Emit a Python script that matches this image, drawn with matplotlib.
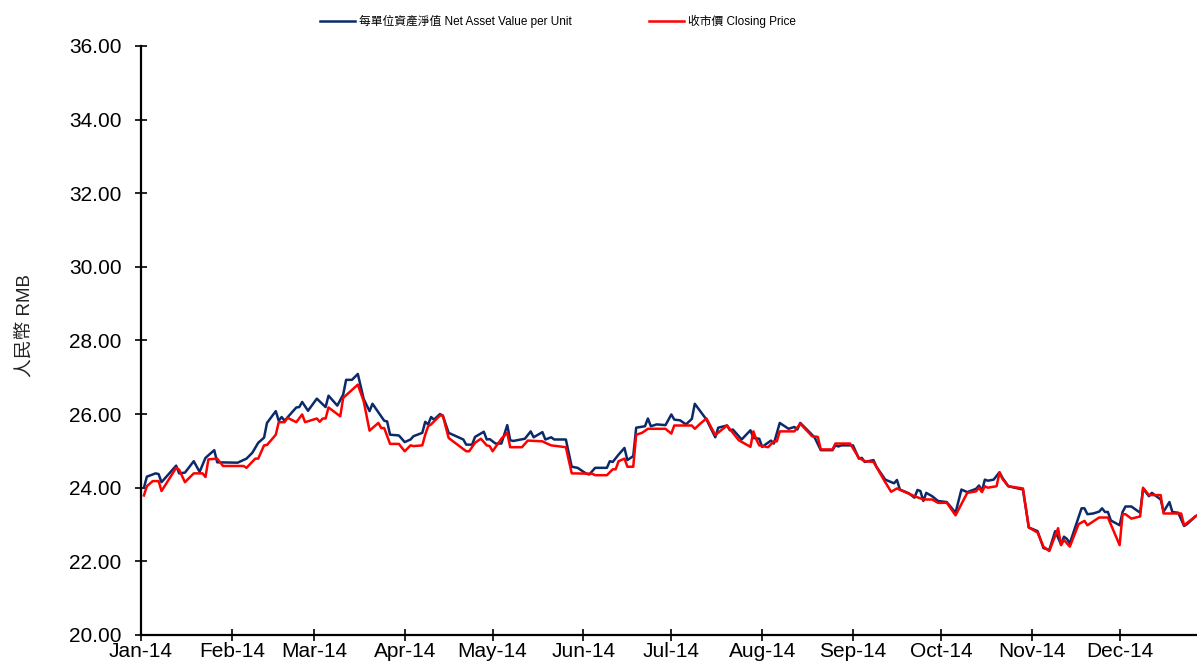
import matplotlib
matplotlib.use('Agg')
import matplotlib.pyplot as plt
import matplotlib.dates as mdates
import pandas as pd

# NAV per unit (navy)
nav_dates = [
    '2014-01-02', '2014-01-03', '2014-01-06', '2014-01-07', '2014-01-08', '2014-01-13',
    '2014-01-14', '2014-01-16', '2014-01-19', '2014-01-21', '2014-01-23', '2014-01-26',
    '2014-01-27', '2014-02-03', '2014-02-06', '2014-02-08', '2014-02-10', '2014-02-12',
    '2014-02-13', '2014-02-16', '2014-02-17', '2014-02-18', '2014-02-19', '2014-02-23',
    '2014-02-24', '2014-02-25', '2014-02-27', '2014-03-02', '2014-03-05', '2014-03-06',
    '2014-03-09', '2014-03-11', '2014-03-12', '2014-03-14', '2014-03-16', '2014-03-18',
    '2014-03-20', '2014-03-21', '2014-03-25', '2014-03-26', '2014-03-27', '2014-03-30',
    '2014-04-01', '2014-04-03', '2014-04-04', '2014-04-07', '2014-04-08', '2014-04-09',
    '2014-04-10', '2014-04-11', '2014-04-13', '2014-04-14', '2014-04-16', '2014-04-21',
    '2014-04-22', '2014-04-24', '2014-04-25', '2014-04-28', '2014-04-29', '2014-04-30',
    '2014-05-02', '2014-05-04', '2014-05-06', '2014-05-07', '2014-05-08', '2014-05-12',
    '2014-05-14', '2014-05-15', '2014-05-18', '2014-05-19', '2014-05-21', '2014-05-22',
    '2014-05-26', '2014-05-28', '2014-05-30', '2014-06-02', '2014-06-03', '2014-06-05',
    '2014-06-09', '2014-06-10', '2014-06-11', '2014-06-13', '2014-06-15', '2014-06-16',
    '2014-06-18', '2014-06-19', '2014-06-22', '2014-06-23', '2014-06-24', '2014-06-26',
    '2014-06-29', '2014-07-01', '2014-07-02', '2014-07-04', '2014-07-06', '2014-07-08',
    '2014-07-09', '2014-07-13', '2014-07-16', '2014-07-17', '2014-07-20', '2014-07-21',
    '2014-07-22', '2014-07-25', '2014-07-28', '2014-07-29', '2014-07-31', '2014-08-01',
    '2014-08-04', '2014-08-05', '2014-08-07', '2014-08-10', '2014-08-12', '2014-08-13',
    '2014-08-14', '2014-08-18', '2014-08-19', '2014-08-21', '2014-08-25', '2014-08-26',
    '2014-08-27', '2014-08-28', '2014-09-01', '2014-09-03', '2014-09-04', '2014-09-05',
    '2014-09-08', '2014-09-09', '2014-09-12', '2014-09-15', '2014-09-16', '2014-09-17',
    '2014-09-20', '2014-09-22', '2014-09-23', '2014-09-24', '2014-09-25', '2014-09-26',
    '2014-09-28', '2014-09-30', '2014-10-03', '2014-10-06', '2014-10-08', '2014-10-10',
    '2014-10-13', '2014-10-14', '2014-10-15', '2014-10-16', '2014-10-17', '2014-10-19',
    '2014-10-21', '2014-10-22', '2014-10-24', '2014-10-29', '2014-10-31', '2014-11-03',
    '2014-11-05', '2014-11-07', '2014-11-09', '2014-11-11', '2014-11-12', '2014-11-13',
    '2014-11-14', '2014-11-18', '2014-11-19', '2014-11-20', '2014-11-22', '2014-11-24',
    '2014-11-25', '2014-11-26', '2014-11-27', '2014-11-28', '2014-12-01', '2014-12-02',
    '2014-12-03', '2014-12-05', '2014-12-08', '2014-12-09', '2014-12-11', '2014-12-12',
    '2014-12-15', '2014-12-16', '2014-12-18', '2014-12-19', '2014-12-21', '2014-12-23',
    '2014-12-24', '2014-12-27', '2014-12-31',
]
nav_values = [
    24.00, 24.30, 24.39, 24.37, 24.15, 24.60,
    24.39, 24.41, 24.72, 24.43, 24.81, 25.02,
    24.69, 24.68, 24.79, 24.95, 25.22, 25.36,
    25.76, 26.08, 25.82, 25.92, 25.82, 26.18,
    26.19, 26.33, 26.09, 26.42, 26.19, 26.50,
    26.23, 26.53, 26.93, 26.93, 27.09, 26.41,
    26.08, 26.28, 25.82, 25.80, 25.44, 25.42,
    25.24, 25.31, 25.40, 25.49, 25.79, 25.72,
    25.92, 25.85, 26.00, 25.96, 25.49, 25.31,
    25.17, 25.17, 25.38, 25.52, 25.31, 25.32,
    25.20, 25.20, 25.70, 25.29, 25.27, 25.33,
    25.53, 25.37, 25.51, 25.31, 25.37, 25.31,
    25.31, 24.57, 24.54, 24.38, 24.36, 24.54,
    24.54, 24.72, 24.70, 24.90, 25.08, 24.75,
    24.86, 25.63, 25.67, 25.88, 25.67, 25.72,
    25.70, 25.99, 25.85, 25.83, 25.72, 25.87,
    26.28, 25.85, 25.37, 25.63, 25.69, 25.56,
    25.58, 25.31, 25.56, 25.35, 25.33, 25.11,
    25.28, 25.20, 25.76, 25.60, 25.65, 25.58,
    25.76, 25.44, 25.35, 25.02, 25.02, 25.15,
    25.12, 25.15, 25.15, 24.79, 24.81, 24.70,
    24.75, 24.57, 24.22, 24.12, 24.21, 23.95,
    23.85, 23.73, 23.94, 23.91, 23.64, 23.86,
    23.77, 23.64, 23.61, 23.32, 23.95, 23.88,
    23.97, 24.06, 23.91, 24.22, 24.19, 24.22,
    24.42, 24.27, 24.04, 23.95, 22.92, 22.82,
    22.36, 22.31, 22.82, 22.46, 22.67, 22.61,
    22.49, 23.44, 23.44, 23.28, 23.30, 23.35,
    23.44, 23.34, 23.34, 23.11, 22.98, 23.34,
    23.49, 23.49, 23.32, 23.97, 23.77, 23.86,
    23.68, 23.35, 23.61, 23.34, 23.32, 22.96,
    23.01, 23.23, 23.35,
]

# Closing price (red)
price_dates = [
    '2014-01-02', '2014-01-03', '2014-01-05', '2014-01-07', '2014-01-08', '2014-01-13',
    '2014-01-14', '2014-01-16', '2014-01-19', '2014-01-22', '2014-01-23', '2014-01-24',
    '2014-01-27', '2014-01-29', '2014-02-05', '2014-02-06', '2014-02-09', '2014-02-10',
    '2014-02-12', '2014-02-13', '2014-02-16', '2014-02-17', '2014-02-19', '2014-02-20',
    '2014-02-23', '2014-02-25', '2014-02-26', '2014-03-02', '2014-03-03', '2014-03-04',
    '2014-03-05', '2014-03-06', '2014-03-10', '2014-03-11', '2014-03-16', '2014-03-18',
    '2014-03-20', '2014-03-23', '2014-03-24', '2014-03-25', '2014-03-27', '2014-03-30',
    '2014-04-01', '2014-04-03', '2014-04-04', '2014-04-07', '2014-04-08', '2014-04-09',
    '2014-04-10', '2014-04-13', '2014-04-14', '2014-04-16', '2014-04-22', '2014-04-23',
    '2014-04-25', '2014-04-27', '2014-04-29', '2014-04-30', '2014-05-01', '2014-05-04',
    '2014-05-06', '2014-05-07', '2014-05-11', '2014-05-13', '2014-05-18', '2014-05-19',
    '2014-05-21', '2014-05-26', '2014-05-28', '2014-06-04', '2014-06-05', '2014-06-09',
    '2014-06-11', '2014-06-12', '2014-06-13', '2014-06-15', '2014-06-16', '2014-06-18',
    '2014-06-19', '2014-06-21', '2014-06-23', '2014-06-29', '2014-07-01', '2014-07-02',
    '2014-07-08', '2014-07-09', '2014-07-11', '2014-07-13', '2014-07-16', '2014-07-20',
    '2014-07-24', '2014-07-28', '2014-07-29', '2014-07-30', '2014-07-31', '2014-08-03',
    '2014-08-05', '2014-08-06', '2014-08-07', '2014-08-12', '2014-08-14', '2014-08-18',
    '2014-08-20', '2014-08-21', '2014-08-25', '2014-08-26', '2014-08-31', '2014-09-03',
    '2014-09-05', '2014-09-08', '2014-09-12', '2014-09-14', '2014-09-16', '2014-09-22',
    '2014-09-25', '2014-09-28', '2014-09-30', '2014-10-03', '2014-10-06', '2014-10-10',
    '2014-10-13', '2014-10-14', '2014-10-15', '2014-10-16', '2014-10-17', '2014-10-20',
    '2014-10-21', '2014-10-22', '2014-10-24', '2014-10-29', '2014-10-31', '2014-11-03',
    '2014-11-05', '2014-11-07', '2014-11-10', '2014-11-11', '2014-11-12', '2014-11-14',
    '2014-11-17', '2014-11-19', '2014-11-20', '2014-11-24', '2014-11-27', '2014-12-01',
    '2014-12-02', '2014-12-03', '2014-12-05', '2014-12-08', '2014-12-09', '2014-12-11',
    '2014-12-15', '2014-12-16', '2014-12-22', '2014-12-23', '2014-12-27', '2014-12-31',
]
price_values = [
    23.79, 24.04, 24.18, 24.18, 23.91, 24.54,
    24.49, 24.15, 24.39, 24.39, 24.29, 24.77,
    24.79, 24.59, 24.59, 24.54, 24.79, 24.79,
    25.15, 25.16, 25.44, 25.78, 25.78, 25.90,
    25.78, 25.99, 25.78, 25.88, 25.79, 25.88,
    25.88, 26.18, 25.94, 26.44, 26.80, 26.35,
    25.55, 25.76, 25.62, 25.62, 25.19, 25.19,
    24.99, 25.15, 25.13, 25.15, 25.44, 25.67,
    25.72, 25.96, 25.96, 25.35, 24.99, 24.99,
    25.22, 25.33, 25.15, 25.13, 24.99, 25.33,
    25.49, 25.10, 25.10, 25.28, 25.26, 25.22,
    25.15, 25.10, 24.39, 24.38, 24.34, 24.34,
    24.50, 24.50, 24.72, 24.79, 24.57, 24.57,
    25.44, 25.49, 25.60, 25.60, 25.47, 25.69,
    25.69, 25.60, 25.75, 25.88, 25.43, 25.69,
    25.29, 25.11, 25.53, 25.31, 25.15, 25.10,
    25.26, 25.26, 25.53, 25.53, 25.74, 25.40,
    25.38, 25.04, 25.04, 25.20, 25.20, 24.81,
    24.72, 24.70, 24.15, 23.89, 23.98, 23.77,
    23.68, 23.68, 23.59, 23.59, 23.25, 23.86,
    23.90, 24.00, 23.88, 24.04, 24.00, 24.04,
    24.41, 24.24, 24.04, 23.98, 22.92, 22.78,
    22.40, 22.28, 22.90, 22.44, 22.58, 22.40,
    23.01, 23.10, 22.98, 23.19, 23.19, 22.44,
    23.28, 23.28, 23.16, 23.22, 24.00, 23.80,
    23.80, 23.30, 23.30, 22.98, 23.23, 23.35,
]

y_ticks = [20, 22, 24, 26, 28, 30, 32, 34, 36]

nav_color = '#0c2a6a'
price_color = '#ff0000'
latin_cjk = ['Liberation Sans', 'Noto Sans CJK TC']

plt.rcParams['font.family'] = latin_cjk

fig = plt.figure(figsize=(11.97, 6.66), dpi=100, facecolor='white')
# axes run slightly past the right edge, the source image is cropped there
ax = fig.add_axes([0.1178, 0.0466, 0.891, 0.8844])

ax.plot(pd.to_datetime(nav_dates), nav_values, color=nav_color, linewidth=1.8,
        label='每單位資產淨值 Net Asset Value per Unit', zorder=2)
ax.plot(pd.to_datetime(price_dates), price_values, color=price_color, linewidth=1.8,
        label='收市價 Closing Price', zorder=3)

ax.set_xlim(pd.Timestamp('2014-01-01'), pd.Timestamp('2014-12-31'))
ax.set_ylim(20, 36)
ax.set_yticks(y_ticks)
ax.yaxis.set_major_formatter(plt.FuncFormatter(lambda v, p: f'{v:.2f}'))
ax.xaxis.set_major_locator(mdates.MonthLocator())
ax.xaxis.set_major_formatter(mdates.DateFormatter('%b-%y'))

for s in ['top', 'right']:
    ax.spines[s].set_visible(False)
for s in ['left', 'bottom']:
    ax.spines[s].set_linewidth(1.6)
    ax.spines[s].set_color('black')

ax.tick_params(axis='both', direction='inout', length=8, width=1.2,
               labelsize=15, colors='black')
ax.tick_params(axis='x', pad=1)
ax.tick_params(axis='y', pad=10)

ax.set_ylabel('人民幣 RMB', fontsize=13.5, color='#222222')
ax.yaxis.set_label_coords(-0.101, 0.526)

ax.legend(loc='center', bbox_to_anchor=(0.466, 0.968), bbox_transform=fig.transFigure,
          ncol=2, frameon=False, fontsize=8.5, handlelength=3.0,
          handletextpad=0.35, columnspacing=6.5)

plt.savefig('out.png', dpi=100, facecolor='white')
plt.close()
